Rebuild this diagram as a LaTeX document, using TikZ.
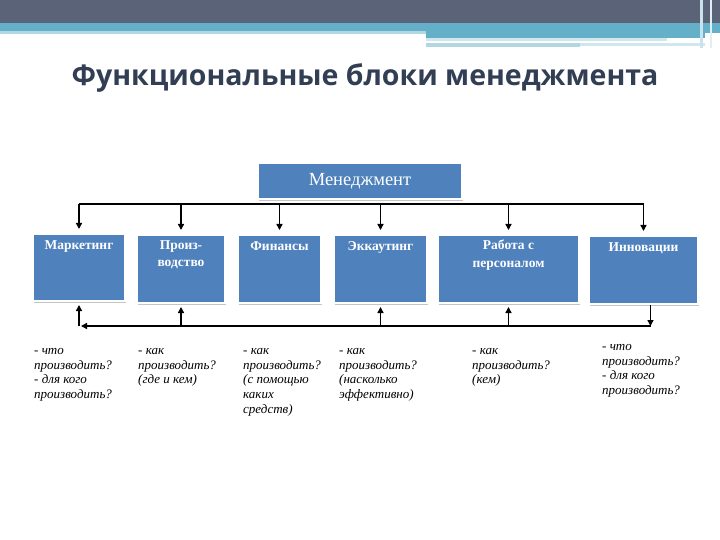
\documentclass[tikz,border=0pt]{standalone}
\usepackage{fontspec}
\setmainfont{Liberation Serif}
\newfontfamily\titlefont{Open Sans}
\usetikzlibrary{arrows.meta, positioning, shadows, calc}
\definecolor{band_dark}{RGB}{91,99,120}
\definecolor{band_cyan}{RGB}{99,176,200}
\definecolor{band_light}{RGB}{178,214,226}
\definecolor{title_navy}{RGB}{50,62,84}
\definecolor{unit_blue}{RGB}{79,129,189}
\tikzset{
    unit/.style={
        draw=white, line width=2pt, fill=unit_blue,
        anchor=north west, inner sep=0pt,
        drop shadow={shadow xshift=1.4pt, shadow yshift=-1.8pt, fill=black!45}
    },
    unitname/.style={
        text=white, align=center, inner sep=0pt,
        font=\bfseries\fontsize{13.5}{17.5}\selectfont
    },
    note/.style={
        anchor=north west, align=left, inner sep=0pt,
        font=\itshape\fontsize{13}{14.7}\selectfont
    },
    bus/.style={line width=1.8pt},
    feed/.style={line width=1.4pt, -{Triangle[length=6pt,width=6pt]}},
}

\begin{document}
\begin{tikzpicture}[x=1pt, y=-1pt]
    \useasboundingbox (0,0) rectangle (720,540);
    % header bands
    \fill[band_dark] (0,0) rectangle (720,23);
    \fill[band_cyan] (0,23) rectangle (720,33);
    \fill[band_light] (0,31) rectangle (426,34);
    \fill[band_cyan] (426,33) rectangle (705,38);
    \fill[band_light!60] (426,38) rectangle (667,41);
    \fill[band_light] (426,43) rectangle (580,47);
    \fill[band_light!60] (580,43) rectangle (705,46);
    \fill[band_light!70] (700,0) rectangle (703,48);
    \fill[band_light!40] (710,0) rectangle (712,48);

    \node[font=\titlefont\bfseries\fontsize{28.5}{32}\selectfont, text=title_navy]
        (title) at (365,78) {Функциональные блоки менеджмента};

    % top box
    \node[unit, anchor=center, minimum width=204pt, minimum height=36pt,
        text=white, font=\fontsize{18.5}{21}\selectfont]
        (mgmt) at (360,181) {Менеджмент};

    % functional blocks
    \node[unit, minimum width=92pt, minimum height=67pt] (mark) at (32,233) {};
    \node[unit, minimum width=88pt, minimum height=68pt] (prod) at (136,234) {};
    \node[unit, minimum width=83pt, minimum height=68pt] (fin) at (237,234) {};
    \node[unit, minimum width=93pt, minimum height=68pt] (ekk) at (333,234) {};
    \node[unit, minimum width=141pt, minimum height=68pt] (pers) at (437,234) {};
    \node[unit, minimum width=109pt, minimum height=68pt] (innov) at (588,235) {};

    \node[unitname, below=7pt of mark.north] (mark-t) {Маркетинг};
    \node[unitname, below=6pt of prod.north] (prod-t) {Произ-\\водство};
    \node[unitname, below=7pt of fin.north] (fin-t) {Финансы};
    \node[unitname, below=7pt of ekk.north] (ekk-t) {Эккаутинг};
    \node[unitname, below=6pt of pers.north] (pers-t) {Работа с\\персоналом};
    \node[unitname, below=7pt of innov.north] (innov-t) {Инновации};

    % links from the top
    \coordinate (topbus) at (0,204);
    \draw[bus] (mark.north |- topbus) -- (innov.north |- topbus);
    \foreach \u in {mark, prod, fin, ekk, pers, innov}
        \draw[feed] (\u.north |- topbus) -- ([yshift=4pt]\u.north);

    % links at the bottom
    \coordinate (lowbus) at (0,326);
    \coordinate (innov-out) at ([xshift=7pt]innov.south);
    \draw[bus, {Triangle[length=6pt,width=6pt]}-]
        ([xshift=2pt]mark.south |- lowbus) -- (innov-out |- lowbus);
    \foreach \u in {mark, prod, ekk, pers}
        \draw[feed] (\u.south |- lowbus) -- ([yshift=-3pt]\u.south);
    \draw[feed] (innov-out) -- (innov-out |- lowbus);

    % questions
    \node[note] (q-mark) at (34,348) {- что\\производить?\\- для кого\\производить?};
    \node[note] (q-prod) at (138,348) {- как\\производить?\\(где и кем)};
    \node[note] (q-fin) at (243,348) {- как\\производить?\\(с помощью\\каких\\средств)};
    \node[note] (q-ekk) at (339,348) {- как\\производить?\\(насколько\\эффективно)};
    \node[note] (q-pers) at (472,348) {- как\\производить?\\(кем)};
    \node[note] (q-innov) at (602,344) {- что\\производить?\\- для кого\\производить?};
\end{tikzpicture}
\end{document}
